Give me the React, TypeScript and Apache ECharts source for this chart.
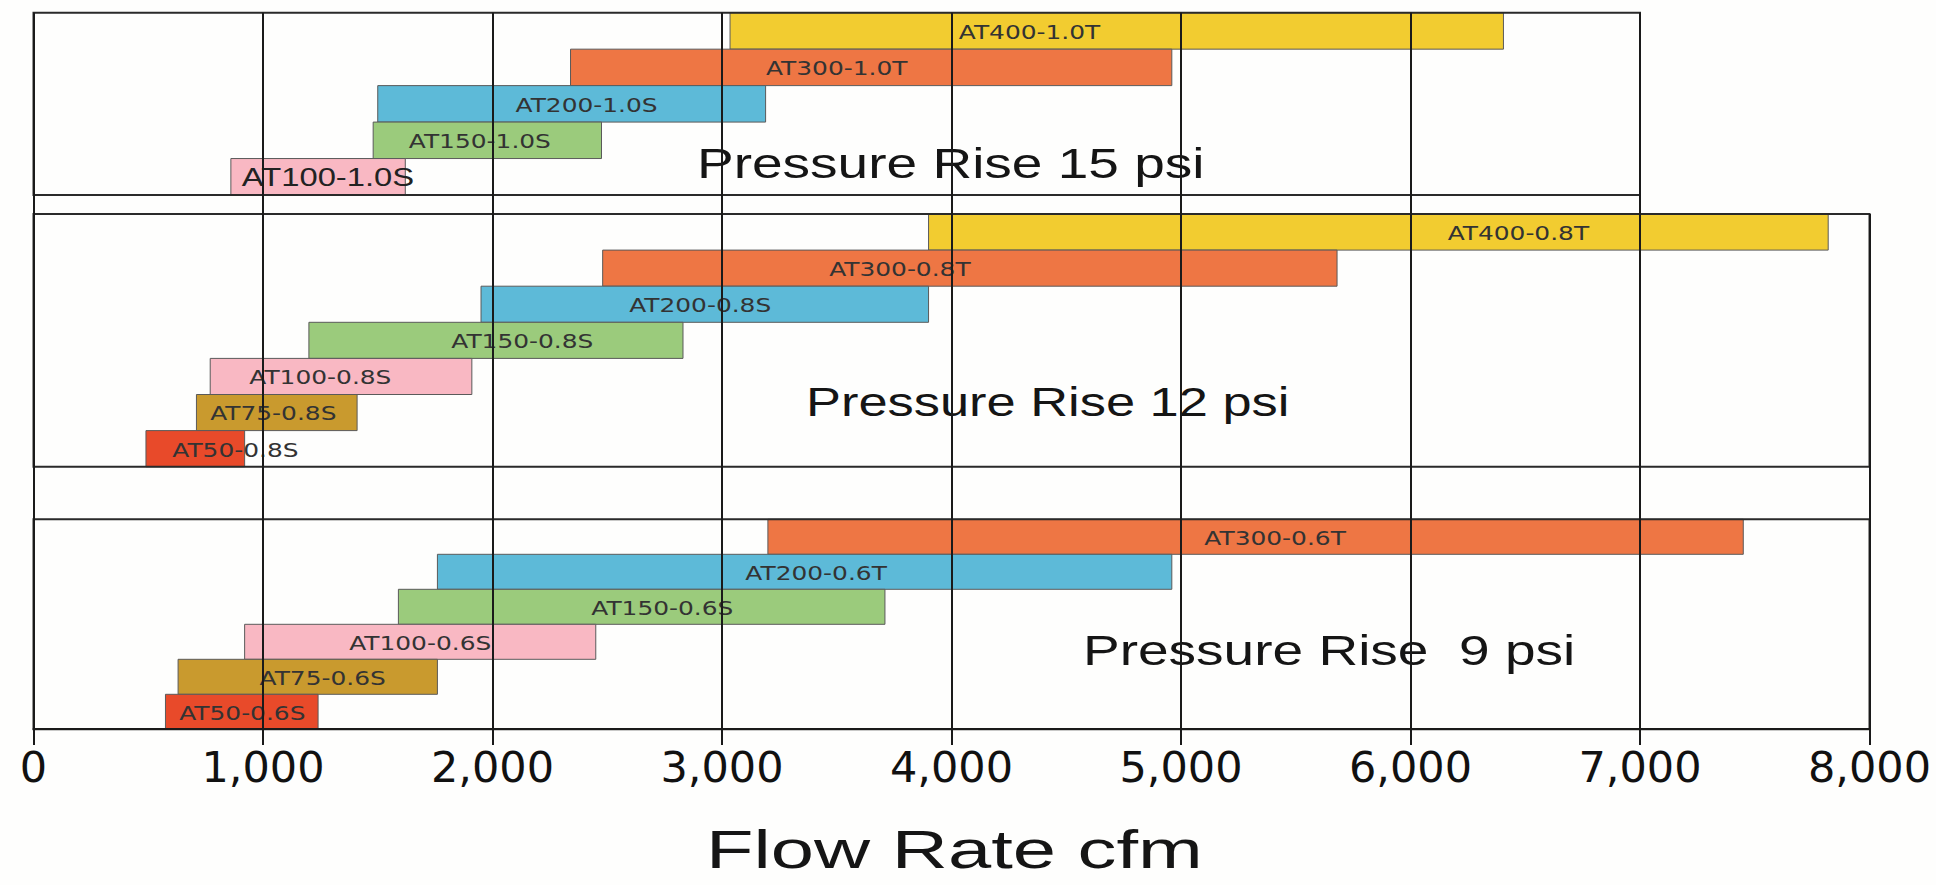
import React, { useEffect, useRef } from "react";
import * as echarts from "echarts";

// ---------- data (cfm) ----------
const NAMES_15 = ["AT400-1.0T", "AT300-1.0T", "AT200-1.0S", "AT150-1.0S", "AT100-1.0S"];
const START_15 = [3035, 2340, 1500, 1480, 860];
const END_15 = [6405, 4960, 3190, 2475, 1620];
const LABEL_AT_15 = [4340, 3500, 2410, 1945, 1283];

const NAMES_12 = ["AT400-0.8T", "AT300-0.8T", "AT200-0.8S", "AT150-0.8S", "AT100-0.8S", "AT75-0.8S", "AT50-0.8S"];
const START_12 = [3900, 2480, 1950, 1200, 770, 710, 490];
const END_12 = [7820, 5680, 3900, 2830, 1910, 1410, 920];
const LABEL_AT_12 = [6470, 3775, 2905, 2130, 1250, 1045, 880];

const NAMES_9 = ["AT300-0.6T", "AT200-0.6T", "AT150-0.6S", "AT100-0.6S", "AT75-0.6S", "AT50-0.6S"];
const START_9 = [3200, 1760, 1590, 920, 630, 575];
const END_9 = [7450, 4960, 3710, 2450, 1760, 1240];
const LABEL_AT_9 = [5410, 3410, 2740, 1685, 1260, 910];

const X_TICK_MIN = 0;
const X_TICK_MAX = 8000;
const X_TICK_STEP = 1000;
const PANEL15_MAX = 7000;

const PANEL_TITLES = ["Pressure Rise 15 psi", "Pressure Rise 12 psi", "Pressure Rise  9 psi"];
const X_TITLE = "Flow Rate cfm";

// ---------- styles ----------
const COLORS: Record<string, string> = {
  AT400: "#F2CC30",
  AT300: "#EE7644",
  AT200: "#5DBAD8",
  AT150: "#9BCB7C",
  AT100: "#F9B8C3",
  AT75: "#C99A2E",
  AT50: "#E84A2A",
};
const colorOf = (n: string) => COLORS[n.split("-")[0]] || "#999";

const X0 = 33.5;
const PX_PER_CFM = 1836 / 8000;
const STRETCH = 1.31;
const LINE = "#1a1a1a";

function rows(names: string[], s: number[], e: number[], l: number[]) {
  return names.map((n, i) => [i, s[i], e[i], l[i], n]);
}

function rangeSeries(idx: number, data: any[]) {
  return {
    type: "custom",
    xAxisIndex: idx,
    yAxisIndex: idx,
    z: 3,
    data,
    encode: { x: [1, 2], y: 0 },
    renderItem: (params: any, api: any) => {
      const cat = api.value(0);
      const p0 = api.coord([api.value(1), cat]);
      const p1 = api.coord([api.value(2), cat]);
      const pl = api.coord([api.value(3), cat]);
      const h = api.size([0, 1])[1];
      const name = data[params.dataIndex][4] as string;
      const big = name === "AT100-1.0S";
      return {
        type: "group",
        children: [
          {
            type: "rect",
            shape: { x: p0[0], y: p0[1] - h / 2, width: p1[0] - p0[0], height: h },
            style: { fill: colorOf(name), stroke: "#5a5a5a", lineWidth: 1 },
          },
          {
            type: "text",
            x: pl[0],
            y: pl[1] + 1,
            scaleX: STRETCH,
            style: {
              text: name,
              fontSize: big ? 25 : 19,
              fontFamily: big ? "Liberation Sans" : "DejaVu Sans",
              fill: big ? "#222" : "#333",
              align: "center",
              verticalAlign: "middle",
            },
          },
        ],
      };
    },
  };
}

export default function App() {
  const ref = useRef<HTMLDivElement>(null);
  useEffect(() => {
    if (!ref.current) return;
    const chart = echarts.init(ref.current, null, { renderer: "svg" });
    const W8 = (X_TICK_MAX - X_TICK_MIN) * PX_PER_CFM;
    const W7 = PANEL15_MAX * PX_PER_CFM;
    const panels = [
      { top: 12.7, height: 182.3, width: W7, max: PANEL15_MAX, names: NAMES_15 },
      { top: 214, height: 252.7, width: W8, max: X_TICK_MAX, names: NAMES_12 },
      { top: 519.3, height: 210, width: W8, max: X_TICK_MAX, names: NAMES_9 },
    ];
    const titleStyle = (size: number) => ({
      fontSize: size,
      fontFamily: "Liberation Sans",
      fill: "#151515",
      align: "left",
      verticalAlign: "middle",
    });
    const option: any = {
      animation: false,
      backgroundColor: "#fefefd",
      grid: [
        { left: X0, top: 12.7, width: W8, height: 716.3, show: false },
        ...panels.map((p) => ({
          left: X0,
          top: p.top,
          width: p.width,
          height: p.height,
          show: true,
          z: 10,
          borderColor: "#2a2a2a",
          borderWidth: 2,
          backgroundColor: "transparent",
        })),
        { left: X0, top: 214, width: W8, height: 515.3, show: false },
      ],
      xAxis: [
        {
          gridIndex: 0,
          type: "value",
          min: X_TICK_MIN,
          max: X_TICK_MAX,
          interval: X_TICK_STEP,
          z: 10,
          axisLine: { show: true, lineStyle: { color: LINE, width: 2 } },
          axisTick: { show: true, length: 16, lineStyle: { color: LINE, width: 2 } },
          axisLabel: {
            margin: 16,
            fontSize: 43,
            fontFamily: "DejaVu Sans",
            color: "#111",
            formatter: (v: number) => v.toLocaleString("en-US"),
          },
          splitLine: {
            show: true,
            showMinLine: true,
            showMaxLine: false,
            lineStyle: { color: LINE, width: 2 },
          },
        },
        ...panels.map((p, i) => ({
          gridIndex: i + 1,
          type: "value",
          min: 0,
          max: p.max,
          show: false,
          splitLine: { show: false },
        })),
        {
          gridIndex: 4,
          type: "value",
          min: 0,
          max: X_TICK_MAX,
          interval: X_TICK_MAX,
          z: 10,
          axisLine: { show: false },
          axisTick: { show: false },
          axisLabel: { show: false },
          splitLine: {
            show: true,
            showMinLine: true,
            showMaxLine: true,
            lineStyle: { color: LINE, width: 2 },
          },
        },
      ],
      yAxis: [
        { gridIndex: 0, type: "value", min: 0, max: 1, show: false, splitLine: { show: false } },
        ...panels.map((p, i) => ({
          gridIndex: i + 1,
          type: "category",
          data: p.names,
          inverse: true,
          show: false,
        })),
        { gridIndex: 4, type: "value", min: 0, max: 1, show: false, splitLine: { show: false } },
      ],
      series: [
        rangeSeries(1, rows(NAMES_15, START_15, END_15, LABEL_AT_15)),
        rangeSeries(2, rows(NAMES_12, START_12, END_12, LABEL_AT_12)),
        rangeSeries(3, rows(NAMES_9, START_9, END_9, LABEL_AT_9)),
      ],
      graphic: [
        { type: "text", x: 697, y: 163, scaleX: STRETCH, z: 5, style: { text: PANEL_TITLES[0], ...titleStyle(42) } },
        { type: "text", x: 806, y: 402, scaleX: STRETCH, z: 5, style: { text: PANEL_TITLES[1], ...titleStyle(40) } },
        { type: "text", x: 1083, y: 650, scaleX: STRETCH, z: 5, style: { text: PANEL_TITLES[2], ...titleStyle(42) } },
        {
          type: "text",
          x: 706,
          y: 849,
          scaleX: 1.44,
          z: 5,
          style: { text: X_TITLE, ...titleStyle(54), lineHeight: 40 },
        },
      ],
    };
    chart.setOption(option);
    return () => chart.dispose();
  }, []);
  return (
    <div
      ref={ref}
      style={{ position: "fixed", left: 0, top: 0, width: 1936, height: 885, background: "#fefefd" }}
    />
  );
}
